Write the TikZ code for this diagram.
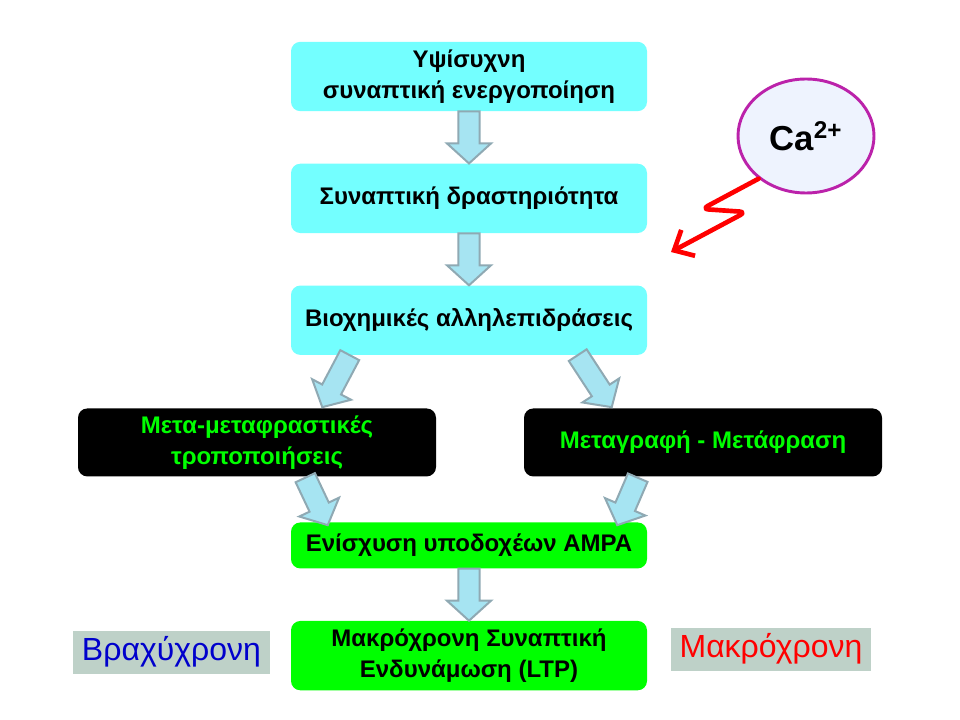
\documentclass[tikz,border=0pt]{standalone}
\usepackage{fontspec}
\setmainfont{Liberation Sans}
\usetikzlibrary{shapes.geometric, arrows.meta, positioning, calc}

\definecolor{boxcyan}{RGB}{115,255,255}
\definecolor{boxgreen}{RGB}{0,255,0}
\definecolor{labelgray}{RGB}{190,209,200}
\definecolor{arrowfill}{RGB}{166,228,242}
\definecolor{arrowdraw}{RGB}{143,169,179}
\definecolor{cafill}{RGB}{238,243,254}
\definecolor{cadraw}{RGB}{187,34,170}

\tikzstyle{stage} = [rectangle, rounded corners=7pt, minimum width=267pt, minimum height=52pt, align=center, font=\bfseries\fontsize{18}{23}\selectfont]
\tikzstyle{cyanbox} = [stage, fill=boxcyan]
\tikzstyle{blackbox} = [stage, fill=black, text=boxgreen, minimum width=268.5pt, minimum height=51pt]
\tikzstyle{greenbox} = [stage, fill=boxgreen]
\tikzstyle{timelabel} = [rectangle, fill=labelgray, draw=white, minimum height=33pt, font=\fontsize{24}{28}\selectfont]
\tikzstyle{fatarr} = [fill=arrowfill, draw=arrowdraw, line width=1.5pt, line join=miter]

% block arrow from #1 to #2
\newcommand{\fatarrow}[2]{%
  \draw[fatarr] ($(#1)!8pt!90:(#2)$)
    -- ($($(#2)!15pt!(#1)$)!8pt!-90:(#1)$)
    -- ($($(#2)!15pt!(#1)$)!16.5pt!-90:(#1)$)
    -- (#2)
    -- ($($(#2)!15pt!(#1)$)!16.5pt!90:(#1)$)
    -- ($($(#2)!15pt!(#1)$)!8pt!90:(#1)$)
    -- ($(#1)!8pt!-90:(#2)$) -- cycle;}

\begin{document}
\begin{tikzpicture}[x=0.75pt, y=-0.75pt]
        \useasboundingbox (0,0) rectangle (960,720);

        \node (hfs) [cyanbox] at (469,76.5) {Υψίσυχνη\\συναπτική ενεργοποίηση};
        \node (act) [cyanbox] [below=39pt of hfs] {Συναπτική δραστηριότητα};
        \node (bio) [cyanbox] [below=39pt of act] {Βιοχημικές αλληλεπιδράσεις};
        \node (ptm) [blackbox] [below=39.75pt of bio, xshift=-159pt] {Μετα-μεταφραστικές\\τροποποιήσεις};
        \node (trl) [blackbox] [below=39.75pt of bio, xshift=175.5pt] {Μεταγραφή - Μετάφραση};
        \node (ampa) [greenbox, minimum height=34.5pt] [below=125.25pt of bio] {Ενίσχυση υποδοχέων AMPA};
        \node (ltp) [greenbox] [below=39pt of ampa] {Μακρόχρονη Συναπτική\\Ενδυνάμωση (LTP)};
        \node (short) [timelabel, text=blue!80!black, minimum width=148.5pt] [left=15pt of ltp, yshift=2.6pt] {Βραχύχρονη};
        \node (long) [timelabel, text=red, minimum width=150.75pt] [right=17.25pt of ltp, yshift=4.9pt] {Μακρόχρονη};

        \node (ca) [ellipse, fill=cafill, draw=cadraw, line width=2.2pt, minimum width=102pt, minimum height=85.5pt, font=\bfseries\fontsize{26}{30}\selectfont] at (806,136) {Ca\textsuperscript{2+}};
        \coordinate (hit) at (671,252);

        \fatarrow{hfs.south}{act.north}
        \fatarrow{act.south}{bio.north}
        \fatarrow{$(bio.south west)+(59,0)$}{$(ptm.north east)+(-114,-1)$}
        \fatarrow{$(bio.south west)+(287,0)$}{$(trl.north west)+(88,-1)$}
        \fatarrow{$(ptm.south east)+(-131,1)$}{$(ampa.north west)+(37,3)$}
        \fatarrow{$(trl.south west)+(114,1)$}{$(ampa.north east)+(-30,3)$}
        \fatarrow{ampa.south}{ltp.north}

        % lightning from calcium
        \draw[red, line width=3.5pt, line cap=round, line join=round, rounded corners=5pt, -{Straight Barb[length=12pt, width=22pt]}]
            (ca.-138) -- (702,209) -- (746,212) -- (hit);

    \end{tikzpicture}
\end{document}
